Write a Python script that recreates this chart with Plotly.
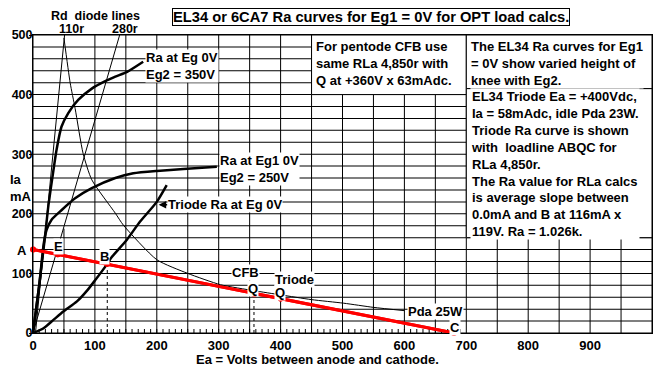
import plotly.graph_objects as go

# ---------------- data ----------------
x_tick_vals = [0, 100, 200, 300, 400, 500, 600, 700, 800, 900]
y_tick_vals = [0, 100, 200, 300, 400, 500]
grid_v = list(range(0, 1001, 50))       # volts
grid_h = list(range(0, 501, 20))        # mA
grid_50v_top = 175                      # the 50V grid line stops here
minor_tick_v = list(range(10, 700, 10))

# Pentode Ra curve, Eg1 0V, Eg2 = 350V
eg2_350_v = [0, 10, 19.4, 25, 33, 38, 46, 57, 73, 95, 116, 133, 152, 178]
eg2_350_i = [0, 80, 162, 215, 273, 307, 346, 369, 391, 410, 422, 430, 438, 455]

# Pentode Ra curve, Eg1 0V, Eg2 = 250V
eg2_250_v = [0, 10, 16.7, 19, 22, 30, 46, 68, 95, 133, 162, 200, 243, 297]
eg2_250_i = [0, 80, 145, 160, 173, 190, 206, 226, 243, 260, 268, 272, 275, 279]

# Triode Ra curve at Eg 0V
triode_v = [0, 17, 33, 49, 71, 88, 100, 120, 127, 152, 173, 200, 216]
triode_i = [0, 8, 22, 36, 53, 72, 88, 116, 127, 157, 187, 220, 248]

# Pda 25W curve (as drawn)
pda_v = [50, 60, 68, 81, 95, 133, 146, 200, 250, 303, 357, 400, 450, 502, 550, 600]
pda_i = [495, 420, 377, 301, 257, 201, 181, 123, 100, 81, 71, 64, 56, 50, 43, 37.5]

# Rd diode lines
diode110_v = [4, 51]
diode110_i = [0, 500]
diode280_v = [0, 140]
diode280_i = [0, 500]

# Load line ABQC, RLa 4,850r
load_v = [0, 680]
load_i = [140, 0]
pts_name = ["A", "E", "B", "Q", "Q", "C"]
pts_v = [0, 40, 120, 357, 400, 680]
pts_i = [140, 132, 116, 65, 58, 0]

# dashed drop lines from B and CFB Q
drop_v = [120, 357]
drop_i = [116, 65]

# text boxes (x0, y0, x1, y1) in volts / mA
box_cfb = (450, 400, 700, 500)
box_r1 = (700, 410, 1000, 500)
box_r2 = (700, 160, 1000, 410)

FONT = "Liberation Sans, Arial, sans-serif"
OFF = 8                                  # page body margin
W, H = 662 - OFF, 373 - OFF
L, T = 33 - OFF, 35 - OFF
R, B = 10, 40
PW, PH = W - L - R, H - T - B
MA_PER_PX = 500 / PH
V_PER_PX = 1000 / PW

fig = go.Figure()

# vertical grid lines, one trace per line
for v in grid_v:
    top = grid_50v_top if v == 50 else 500
    fig.add_trace(go.Scatter(x=[v, v], y=[0, top], mode="lines",
                             line=dict(color="black", width=1), hoverinfo="skip", showlegend=False))

# horizontal grid lines as 1px-high filled rectangles
for h in grid_h:
    fig.add_shape(type="rect", x0=0, x1=1000, y0=h - 0.5 * MA_PER_PX, y1=h + 0.5 * MA_PER_PX,
                  xref="x", yref="y", fillcolor="black", line=dict(width=0), layer="above")

# minor ticks on the Ea axis (every 10V) as 1px-wide filled rectangles
for v in minor_tick_v:
    fig.add_shape(type="rect", x0=v - 0.5 * V_PER_PX, x1=v + 0.5 * V_PER_PX, y0=0, y1=4 * MA_PER_PX,
                  xref="x", yref="y", fillcolor="black", line=dict(width=0), layer="above")

# dashed drops
for v, i in zip(drop_v, drop_i):
    fig.add_trace(go.Scatter(x=[v, v], y=[0, i], mode="lines",
                             line=dict(color="black", width=1, dash="3px,3px"),
                             showlegend=False))

thin = dict(color="black", width=1)
fig.add_trace(go.Scatter(x=diode110_v, y=diode110_i, mode="lines", line=thin, showlegend=False))
fig.add_trace(go.Scatter(x=diode280_v, y=diode280_i, mode="lines", line=thin, showlegend=False))
fig.add_trace(go.Scatter(x=pda_v, y=pda_i, mode="lines",
                         line=dict(color="black", width=1, shape="spline", smoothing=0.6), showlegend=False))

thick = dict(color="black", width=2.5, shape="spline", smoothing=0.6)
fig.add_trace(go.Scatter(x=eg2_350_v, y=eg2_350_i, mode="lines", line=thick, showlegend=False))
fig.add_trace(go.Scatter(x=eg2_250_v, y=eg2_250_i, mode="lines", line=thick, showlegend=False))
fig.add_trace(go.Scatter(x=triode_v, y=triode_i, mode="lines", line=thick, showlegend=False))

# load line and points (line repeated above the grid)
fig.add_trace(go.Scatter(x=load_v, y=load_i, mode="lines", line=dict(color="#ff0000", width=3), showlegend=False))
fig.add_shape(type="line", x0=load_v[0], y0=load_i[0], x1=load_v[1], y1=load_i[1], xref="x", yref="y",
              line=dict(color="#ff0000", width=3), layer="above")
fig.add_trace(go.Scatter(x=pts_v, y=pts_i, mode="markers", marker=dict(color="#ff0000", size=6),
                         text=pts_name, cliponaxis=False, showlegend=False))
for v, i in zip(pts_v, pts_i):
    fig.add_shape(type="circle", x0=v - 3 * V_PER_PX, x1=v + 3 * V_PER_PX,
                  y0=i - 3 * MA_PER_PX, y1=i + 3 * MA_PER_PX, xref="x", yref="y",
                  fillcolor="#ff0000", line=dict(width=0), layer="above")

# boxes
for (x0, y0, x1, y1) in (box_cfb, box_r1, box_r2):
    fig.add_shape(type="rect", x0=x0, y0=y0, x1=x1, y1=y1, xref="x", yref="y",
                  fillcolor="white", line=dict(color="black", width=1), layer="above")


def v_of(px):
    return (px - 33) / 0.619


def i_of(py):
    return (333 - py) / 0.596


def px_x(px):
    return (px - OFF - L) / PW


def px_y(py):
    return (H - B - (py - OFF)) / PH


def font(size=13):
    return dict(family=FONT, size=size, color="black", weight="bold")


def label(text, x, y, xanchor="center", yanchor="middle", size=13, bg="white"):
    fig.add_annotation(text=text, x=x, y=y, xref="x", yref="y", showarrow=False,
                       xanchor=xanchor, yanchor=yanchor, align="left",
                       font=font(size), bgcolor=bg, borderpad=0)


def plabel(text, px, py, xanchor="center", yanchor="middle", size=13, **kw):
    fig.add_annotation(text=text, x=px_x(px), y=px_y(py), xref="paper", yref="paper",
                       showarrow=False, xanchor=xanchor, yanchor=yanchor, align="left",
                       font=font(size), borderpad=0, **kw)


# curve labels
label("Ra at Eg 0V<br>Eg2 = 350V", v_of(145), i_of(65.5), xanchor="left")
label("Ra at Eg1 0V<br>Eg2 = 250V", v_of(219), i_of(168.5), xanchor="left")
fig.add_annotation(text="Triode Ra at Eg 0V", x=203, y=215, xref="x", yref="y",
                   showarrow=True, arrowhead=2, arrowsize=1, arrowwidth=1.5, arrowcolor="black",
                   ax=66, ay=0, xanchor="center", yanchor="middle",
                   font=font(13), bgcolor="white", borderpad=0)
label("CFB", v_of(245), i_of(272))
label("Q", v_of(252.5), i_of(288))
label("Triode", v_of(294), i_of(279))
label("Q", v_of(280), i_of(292.5))
label("Pda 25W", v_of(407), i_of(311), xanchor="left")
label("C", v_of(454.5), i_of(327))
label("E", v_of(58.3), i_of(246))
label("B", v_of(104.5), i_of(256.5))

# texts outside the plot area
plabel("A", 22, 250)
plabel("Ia<br>mA", 9, 188, xanchor="left")
plabel("Rd  diode lines", 95, 16.5, size=12.5)
plabel("110r", 71, 29, size=12.5)
plabel("280r", 124.5, 29, size=12.5)
plabel("EL34 or 6CA7 Ra curves for Eg1 = 0V for OPT load calcs.", 371, 17, size=14.7,
       bgcolor="white", bordercolor="black", borderwidth=1)
plabel("Ea = Volts between anode and cathode.", 317, 359)

# box texts
label("For pentode CFB use<br>same RLa 4,850r with<br>Q at +360V x 63mAdc.",
      v_of(315), i_of(37.5), xanchor="left", yanchor="top")
label("The EL34 Ra curves for Eg1<br>= 0V show varied height of<br>knee with Eg2.",
      v_of(470), i_of(37.5), xanchor="left", yanchor="top")
label("EL34 Triode Ea = +400Vdc,<br>Ia = 58mAdc, idle Pda 23W.<br>Triode Ra curve is shown<br>"
      "with  loadline ABQC for<br>RLa 4,850r.<br>The Ra value for RLa calcs<br>"
      "is average slope between<br>0.0mA and B at 116mA x<br>119V. Ra = 1.026k.",
      v_of(470), i_of(88), xanchor="left", yanchor="top")

fig.update_layout(
    width=W, height=H,
    margin=dict(l=L, r=R, t=T, b=B),
    paper_bgcolor="white", plot_bgcolor="rgba(0,0,0,0)",
    font=font(13),
    showlegend=False,
    xaxis=dict(range=[0, 1000], tickvals=x_tick_vals, zeroline=False, showgrid=False,
               automargin=False,
               showline=True, linecolor="black", linewidth=1, mirror=True,
               ticks="", tickfont=font(13)),
    yaxis=dict(range=[0, 500], tickvals=y_tick_vals, zeroline=False, showgrid=False,
               automargin=False,
               showline=True, linecolor="black", linewidth=1, mirror=True,
               ticks="outside", ticklen=3, tickcolor="black",
               ticklabelstandoff=-6,
               tickfont=font(12.5)),
)

fig.write_html("out.html")
